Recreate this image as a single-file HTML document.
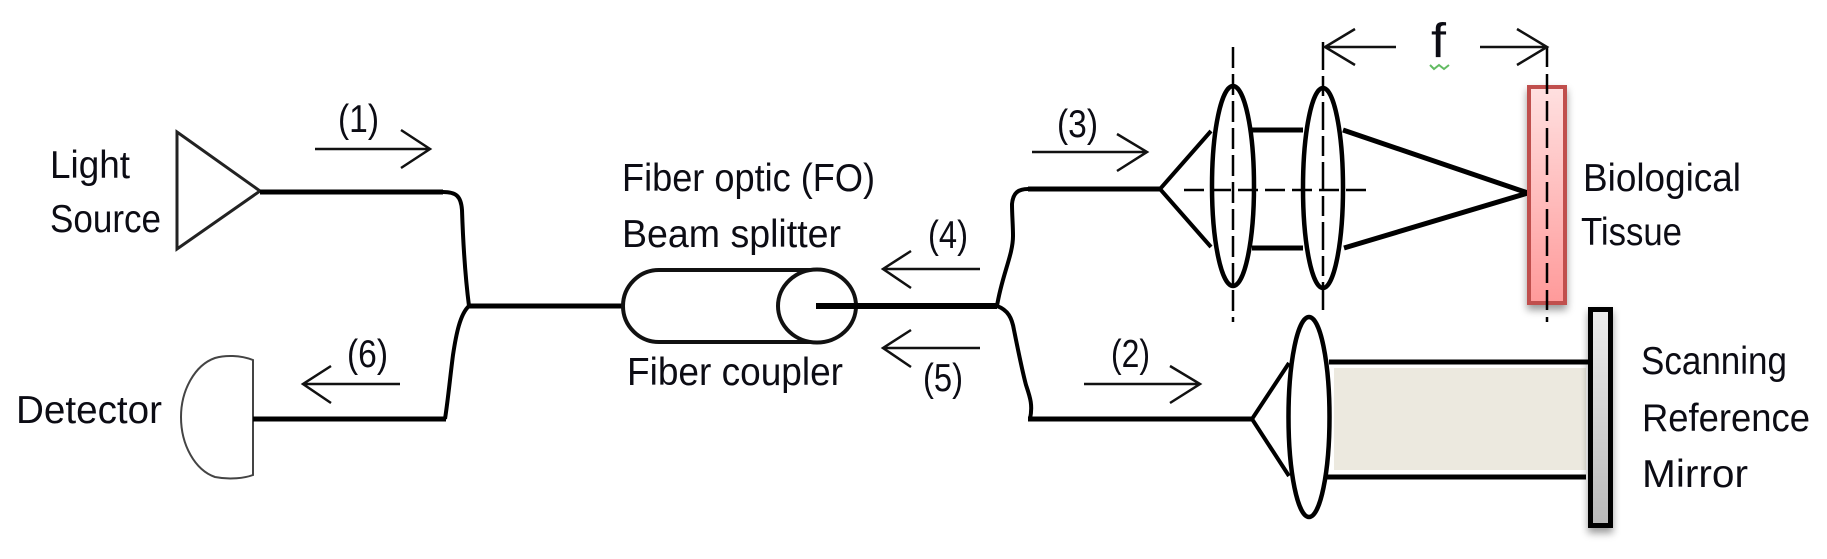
<!DOCTYPE html>
<html>
<head>
<meta charset="utf-8">
<style>
html,body{margin:0;padding:0;background:#fff;}
svg{display:block;}
text{font-family:"Liberation Sans",sans-serif;font-size:39px;fill:#0c0c14;}
.n{font-size:39px;}
.f{font-size:48px;}
</style>
</head>
<body>
<svg width="1827" height="559" viewBox="0 0 1827 559" xmlns="http://www.w3.org/2000/svg">
<defs>
<linearGradient id="red" x1="0" y1="0" x2="0" y2="1"><stop offset="0" stop-color="#ffe0e0"/><stop offset="1" stop-color="#ff9a9a"/></linearGradient>
<linearGradient id="gray" x1="0" y1="0" x2="0" y2="1"><stop offset="0" stop-color="#ececec"/><stop offset="1" stop-color="#b9b9b9"/></linearGradient>
<filter id="sh" x="-50%" y="-10%" width="200%" height="125%"><feDropShadow dx="0" dy="5" stdDeviation="4" flood-color="#000" flood-opacity="0.4"/></filter>
</defs>

<!-- Light source and detector -->
<polygon points="177,132 260,191 177,249" fill="#fff" stroke="#222" stroke-width="3"/>
<path d="M253 360 C240 355 225 355 215 358 C195 365 181 390 181 417 C181 445 195 470 215 477 C230 480 245 478 253 475 Z" fill="#fff" stroke="#444" stroke-width="2"/>

<!-- Fibers left -->
<g fill="none" stroke="#000">
<path d="M260 192 H443" stroke-width="5"/>
<path d="M443 192 C456 192 461 196 462 210 C463 240 465 275 469 306" stroke-width="4"/>
<path d="M469 306 C460 314 456 335 453 355 C450 378 448 400 445 419" stroke-width="4"/>
<path d="M253 419 H446" stroke-width="5"/>
<path d="M469 306 H623" stroke-width="5"/>
</g>

<!-- Coupler -->
<path d="M817 270 H659 A36 36 0 0 0 659 342 H817" fill="#fff" stroke="#111" stroke-width="4"/>
<ellipse cx="817" cy="306" rx="39" ry="36.5" fill="#fff" stroke="#111" stroke-width="4"/>
<g fill="none" stroke="#000">
<path d="M816 306 H997" stroke-width="6"/>
<path d="M997 306 C1002 275 1013 255 1013 236 C1013 225 1012 215 1012 204 C1013 193 1018 189 1028 189" stroke-width="4"/>
<path d="M997 306 C1008 310 1012 318 1014 330 C1018 350 1022 370 1026 385 C1030 397 1033 405 1030 419" stroke-width="4"/>
<path d="M1028 189 H1160" stroke-width="5"/>
<path d="M1028 419 H1252" stroke-width="5"/>
</g>

<!-- Sample arm -->
<g fill="none" stroke="#000">
<path d="M1211 131 L1160 189 L1211 247" stroke-width="4"/>
<path d="M1252 130 H1303 M1252 248 H1303" stroke-width="5"/>
<path d="M1343 130 L1528 193 L1344 248" stroke-width="5"/>
</g>

<rect x="1529" y="87" width="36" height="216" fill="url(#red)" stroke="#c0504d" stroke-width="4" filter="url(#sh)"/>

<ellipse cx="1233" cy="186" rx="21" ry="100" fill="#fff" stroke="#000" stroke-width="4.5"/>
<ellipse cx="1323" cy="188" rx="20" ry="100" fill="#fff" stroke="#000" stroke-width="4.5"/>
<g fill="none" stroke="#000" stroke-width="2.5">
<path d="M1184 190 H1366" stroke-dasharray="20 7"/>
<path d="M1233 47 V322" stroke-dasharray="21 6"/>
<path d="M1323 42 V316" stroke-dasharray="28 6 20 6"/>
<path d="M1547 47 V322" stroke-dasharray="20 7"/>
</g>

<!-- Reference arm -->
<rect x="1334" y="368" width="252" height="102" fill="#ece9df"/>
<g fill="none" stroke="#000">
<path d="M1289 363 L1252 419 L1289 476" stroke-width="4"/>
<path d="M1329 362 H1590" stroke-width="5"/>
<path d="M1326 477 H1586" stroke-width="5"/>
</g>
<ellipse cx="1309" cy="417" rx="20.5" ry="100" fill="none" stroke="#000" stroke-width="4.5"/>
<rect x="1590.5" y="309.5" width="20" height="216" fill="url(#gray)" stroke="#000" stroke-width="5" filter="url(#sh)"/>

<!-- Thin arrows -->
<g fill="none" stroke="#111" stroke-width="2.5">
<path d="M315 149 H430 M401 130 L430 149 L401 168"/>
<path d="M400 384 H303 M331 366 L303 384 L331 403"/>
<path d="M1032 152 H1147 M1117 134 L1147 152 L1117 171"/>
<path d="M980 269 H883 M911 251 L883 269 L911 288"/>
<path d="M980 348 H883 M911 330 L883 348 L911 367"/>
<path d="M1084 384 H1200 M1170 366 L1200 384 L1170 403"/>
<path d="M1396 47 H1325 M1355 29 L1325 47 L1355 65"/>
<path d="M1480 47 H1547 M1517 29 L1547 47 L1517 65"/>
</g>
<path d="M1430 65 L1434 69 L1439 65 L1444 69 L1449 65" fill="none" stroke="#62bb62" stroke-width="2"/>

<!-- Labels -->
<text x="50" y="178" textLength="80" lengthAdjust="spacingAndGlyphs">Light</text>
<text x="50" y="232" textLength="111" lengthAdjust="spacingAndGlyphs">Source</text>
<text x="16" y="423" textLength="146" lengthAdjust="spacingAndGlyphs">Detector</text>
<text x="622" y="191" textLength="253" lengthAdjust="spacingAndGlyphs">Fiber optic (FO)</text>
<text x="622" y="247" textLength="219" lengthAdjust="spacingAndGlyphs">Beam splitter</text>
<text x="627" y="385" textLength="216" lengthAdjust="spacingAndGlyphs">Fiber coupler</text>
<text x="1583" y="191" textLength="158" lengthAdjust="spacingAndGlyphs">Biological</text>
<text x="1581" y="245" textLength="101" lengthAdjust="spacingAndGlyphs">Tissue</text>
<text x="1641" y="374" textLength="146" lengthAdjust="spacingAndGlyphs">Scanning</text>
<text x="1642" y="431" textLength="168" lengthAdjust="spacingAndGlyphs">Reference</text>
<text x="1642" y="487" textLength="106" lengthAdjust="spacingAndGlyphs">Mirror</text>
<text class="f" x="1431" y="57" textLength="15" lengthAdjust="spacingAndGlyphs">f</text>
<text class="n" x="338" y="132" textLength="41" lengthAdjust="spacingAndGlyphs">(1)</text>
<text class="n" x="347" y="367" textLength="41" lengthAdjust="spacingAndGlyphs">(6)</text>
<text class="n" x="1057" y="137" textLength="41" lengthAdjust="spacingAndGlyphs">(3)</text>
<text class="n" x="928" y="248" textLength="40" lengthAdjust="spacingAndGlyphs">(4)</text>
<text class="n" x="923" y="391" textLength="40" lengthAdjust="spacingAndGlyphs">(5)</text>
<text class="n" x="1111" y="367" textLength="39" lengthAdjust="spacingAndGlyphs">(2)</text>
</svg>
</body>
</html>
